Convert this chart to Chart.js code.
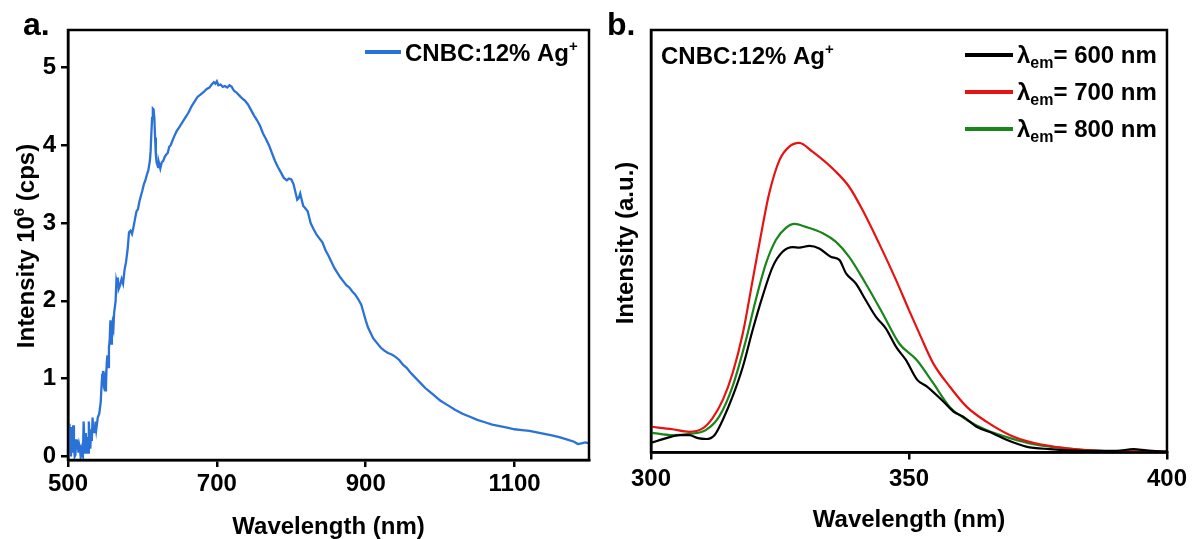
<!DOCTYPE html>
<html>
<head>
<meta charset="utf-8">
<script src="https://cdn.jsdelivr.net/npm/chart.js@4.4.1/dist/chart.umd.min.js"></script>
<style>
  html, body { margin: 0; padding: 0; background: #ffffff; }
  #wrap { position: relative; width: 1192px; height: 539px; overflow: hidden; }
  canvas { position: absolute; top: 0; }
  #cA { left: 0; }
  #cB { left: 596px; }
</style>
</head>
<body>
<div id="wrap">
  <canvas id="cA" width="596" height="539"></canvas>
  <canvas id="cB" width="596" height="539"></canvas>
</div>
<script>
// ---------------- Panel a data ----------------
const waveA = [500,501,502,503,504,505,506,507,508,509,510,511,512,513,514,515,516,517,518,519,520,521,522,523,524,525,526,527,528,529,530,531,532,533,534,535,536,537,538,540,542,544,545,546,547,548,549,550,551,552,553,554,555,556,557,558,559,560,561,562,564,565,566,567,568,570,572,574,576,578,580,582,584,586,588,590,592,594,596,598,600,602,604,606,608,610,611,612,613,614,615,616,617,618,619,620,621,622,624,626,628,630,632,634,636,638,640,643,646,650,654,658,662,666,670,674,678,682,686,690,693,696,698,700,702,705,708,711,714,717,720,723,726,730,734,738,742,746,750,754,758,762,766,770,774,778,782,786,790,794,797,800,803,806,808,810,812,814,816,818,822,826,830,834,838,842,846,850,854,858,862,866,870,874,878,882,886,890,894,897,900,903,906,910,915,920,925,930,935,940,945,950,955,960,965,970,975,980,985,990,995,1000,1010,1020,1030,1040,1050,1060,1070,1080,1090,1100,1110,1120,1130,1140,1150,1160,1170,1180,1185,1190,1195,1200];
const intensityA = [0.28,0.05,0.42,0.10,0.00,0.38,0.05,0.40,0.15,0.00,0.02,0.22,0.10,0.20,0.05,0.15,0.10,0.00,0.08,0.02,0.00,0.45,0.20,0.05,0.30,0.10,0.25,0.05,0.45,0.20,0.10,0.35,0.20,0.50,0.30,0.40,0.30,0.45,0.35,0.50,0.55,0.70,0.90,1.05,1.10,0.95,1.00,0.85,0.90,1.20,1.30,1.15,1.40,1.50,1.75,1.45,1.55,1.70,1.65,1.85,2.00,2.25,2.20,2.30,2.15,2.20,2.28,2.22,2.40,2.50,2.65,2.88,2.90,2.86,2.95,3.05,3.15,3.18,3.28,3.35,3.42,3.50,3.55,3.62,3.68,3.80,3.92,4.15,4.35,4.47,4.46,4.35,4.10,3.88,3.78,3.75,3.72,3.78,3.70,3.78,3.80,3.85,3.88,3.90,3.98,4.00,4.05,4.12,4.18,4.24,4.30,4.36,4.42,4.50,4.56,4.62,4.65,4.68,4.72,4.74,4.78,4.81,4.79,4.82,4.77,4.78,4.75,4.76,4.74,4.77,4.75,4.70,4.68,4.64,4.60,4.57,4.52,4.45,4.38,4.32,4.25,4.15,4.08,4.00,3.90,3.80,3.72,3.65,3.58,3.55,3.57,3.56,3.50,3.38,3.30,3.32,3.38,3.30,3.22,3.20,3.15,3.00,2.92,2.85,2.80,2.75,2.65,2.58,2.50,2.42,2.36,2.30,2.25,2.20,2.17,2.12,2.08,2.02,1.95,1.85,1.75,1.66,1.60,1.52,1.46,1.40,1.36,1.33,1.31,1.28,1.24,1.18,1.14,1.08,1.03,0.98,0.93,0.88,0.84,0.80,0.76,0.72,0.66,0.60,0.55,0.51,0.47,0.44,0.41,0.39,0.37,0.35,0.34,0.33,0.31,0.29,0.27,0.25,0.22,0.19,0.16,0.17,0.18,0.17];
const xTicksA = [500, 700, 900, 1100];
const yTicksA = [0, 1, 2, 3, 4, 5];

// ---------------- Panel b data ----------------
const waveB600 = [300,303,305.6,307.4,309.1,310.7,312.3,313.9,315.8,317.8,319.7,321.6,323.6,325.5,327.5,328.7,330.7,332.6,334.9,336.5,337.8,339.7,341.6,343.6,345.5,347.5,349.4,351.6,353.5,356.7,358.6,360.5,363.1,366.3,368.9,372.7,377.3,383.8,390.2,393.5,396,400];
const intB600 = [2.3,3.4,4.1,4.1,3.4,3.2,4.1,7.7,13.2,20.3,29.0,36.9,44.0,47.5,48.6,48.5,48.9,48.3,46.3,45.6,42.4,40.0,36.1,32.1,29.4,25.0,21.9,17.2,15.6,12.0,9.7,8.5,6.1,4.5,3.0,1.4,0.8,0.4,0.4,0.8,0.5,0.2];
const waveB700 = [300,304.2,307.4,310,311.9,313.9,315.8,317.8,319.7,321.6,322.9,324.9,326.8,328.7,331.3,335.8,338.4,341,344.2,347.5,350,352,354.7,357.9,361.2,365,369.6,374.1,380.5,387,400];
const intB700 = [6.1,5.5,4.9,5.7,8.1,12.4,18.7,28.2,40.8,53.4,61.3,69.2,72.4,73.3,71.2,66.5,62.9,57.4,49.5,40.8,33.7,28.2,21.1,15.6,10.8,7.3,4.1,2.3,1.0,0.4,0.2];
const waveB800 = [300,304.2,307.4,310.6,313.2,315.8,318.4,320.3,322.3,324.2,326.1,327.8,330,333.3,335.8,338.4,341.6,344.9,348.1,351.5,354.7,357.9,361.2,365,369.6,374.1,380.5,387,400];
const intB800 = [4.7,4.1,4.4,5.3,8.5,15.6,26.6,36.1,44.8,50.3,53.1,54.1,53.4,51.9,49.9,46.3,40.0,32.9,25.8,21.9,16.4,10.8,7.7,5.3,3.4,2.0,1.0,0.4,0.2];
const xTicksB = [300, 350, 400];

const FONT = '"Liberation Sans", Arial, sans-serif';
const BLACK = '#000000';
const FS = 24;

function pts(xs, ys) { return xs.map((x, i) => ({ x: x, y: ys[i] })); }

function frame(lw) {
  return {
    id: 'frame',
    afterDatasetsDraw(chart) {
      const a = chart.chartArea, c = chart.ctx;
      c.save();
      c.strokeStyle = BLACK; c.lineWidth = lw;
      c.strokeRect(a.left, a.top, a.right - a.left, a.bottom - a.top);
      c.restore();
    }
  };
}

function drawRuns(c, runs, x, y) {
  let cx = x;
  runs.forEach(r => {
    c.font = 'bold ' + r.size + 'px ' + FONT;
    c.fillText(r.t, cx, y + (r.dy || 0));
    cx += c.measureText(r.t).width;
  });
  return cx;
}
function runsWidth(c, runs) {
  let w = 0;
  runs.forEach(r => { c.font = 'bold ' + r.size + 'px ' + FONT; w += c.measureText(r.t).width; });
  return w;
}

function axis(ticks, min, max, fitKey, fitVal, showLabels, pad) {
  return {
    type: 'linear', min: min, max: max,
    afterBuildTicks: s => { s.ticks = ticks.map(v => ({ value: v })); },
    afterFit: s => { s[fitKey] = fitVal; },
    border: { display: true, color: BLACK, width: 2.5 },
    grid: { display: true, drawOnChartArea: false, drawTicks: true, tickLength: 7, color: BLACK, lineWidth: 2.5 },
    ticks: { display: showLabels, color: BLACK, font: { family: FONT, size: FS, weight: 'bold' }, padding: pad, maxRotation: 0, autoSkip: false, callback: v => String(v) }
  };
}

// ---------------- Chart a ----------------
const textA = {
  id: 'textA',
  afterDraw(chart) {
    const c = chart.ctx, a = chart.chartArea;
    c.save();
    c.fillStyle = BLACK; c.textBaseline = 'alphabetic'; c.textAlign = 'left';
    c.font = 'bold 32px ' + FONT;
    c.fillText('a.', 23, 35);
    c.strokeStyle = '#2a72d8'; c.lineWidth = 4;
    c.beginPath(); c.moveTo(365, 52); c.lineTo(401, 52); c.stroke();
    drawRuns(c, [{ t: 'CNBC:12% Ag', size: FS }, { t: '+', size: 15, dy: -10 }], 405, 61);
    c.font = 'bold ' + FS + 'px ' + FONT; c.textAlign = 'center';
    c.fillText('Wavelength (nm)', (a.left + a.right) / 2, 534);
    c.textAlign = 'left';
    const runs = [{ t: 'Intensity 10', size: FS }, { t: '6', size: 15, dy: -10 }, { t: ' (cps)', size: FS }];
    const w = runsWidth(c, runs);
    c.translate(34, 246); c.rotate(-Math.PI / 2);
    drawRuns(c, runs, -w / 2, 0);
    c.restore();
  }
};

new Chart(document.getElementById('cA'), {
  type: 'line',
  data: { datasets: [{ data: pts(waveA, intensityA), borderColor: '#2a72d8', borderWidth: 2.3, pointRadius: 0, tension: 0, fill: false }] },
  options: {
    responsive: false, animation: false,
    layout: { padding: { top: 30, right: 7, left: 0, bottom: 0 } },
    plugins: { legend: { display: false }, tooltip: { enabled: false } },
    scales: {
      x: axis(xTicksA, 500, 1200, 'height', 79, true, 3),
      y: axis(yTicksA, -0.045, 5.48, 'width', 68, true, 5)
    }
  },
  plugins: [frame(2.5), textA]
});

// ---------------- Chart b ----------------
const textB = {
  id: 'textB',
  afterDraw(chart) {
    const c = chart.ctx, a = chart.chartArea;
    c.save();
    c.fillStyle = BLACK; c.textBaseline = 'alphabetic'; c.textAlign = 'left';
    c.font = 'bold 32px ' + FONT;
    c.fillText('b.', 11, 35);
    drawRuns(c, [{ t: 'CNBC:12% Ag', size: FS }, { t: '+', size: 15, dy: -10 }], 65, 64);
    const leg = [['#000000', '600'], ['#e81212', '700'], ['#1a851a', '800']];
    leg.forEach((l, i) => {
      const y = 55 + i * 37;
      c.strokeStyle = l[0]; c.lineWidth = 4;
      c.beginPath(); c.moveTo(369, y); c.lineTo(417, y); c.stroke();
      drawRuns(c, [{ t: 'λ', size: FS }, { t: 'em', size: 16, dy: 5 }, { t: '= ' + l[1] + ' nm', size: FS }], 421, y + 8);
    });
    c.font = 'bold ' + FS + 'px ' + FONT; c.textAlign = 'center';
    c.fillText('Wavelength (nm)', (a.left + a.right) / 2, 527);
    c.translate(37, 243); c.rotate(-Math.PI / 2);
    c.fillText('Intensity (a.u.)', 0, 0);
    c.restore();
  }
};

new Chart(document.getElementById('cB'), {
  type: 'line',
  data: {
    datasets: [
      { data: pts(waveB600, intB600), borderColor: '#000000', borderWidth: 2.2, pointRadius: 0, cubicInterpolationMode: 'monotone', fill: false },
      { data: pts(waveB700, intB700), borderColor: '#e81212', borderWidth: 2.2, pointRadius: 0, cubicInterpolationMode: 'monotone', fill: false },
      { data: pts(waveB800, intB800), borderColor: '#1a851a', borderWidth: 2.2, pointRadius: 0, cubicInterpolationMode: 'monotone', fill: false }
    ]
  },
  options: {
    responsive: false, animation: false,
    layout: { padding: { top: 30, right: 25, left: 0, bottom: 0 } },
    plugins: { legend: { display: false }, tooltip: { enabled: false } },
    scales: {
      x: axis(xTicksB, 300, 400, 'height', 86.5, true, 5),
      y: Object.assign(axis([], 0, 100, 'width', 55, false, 5), { grid: { display: false } })
    }
  },
  plugins: [frame(2.5), textB]
});
</script>
</body>
</html>
